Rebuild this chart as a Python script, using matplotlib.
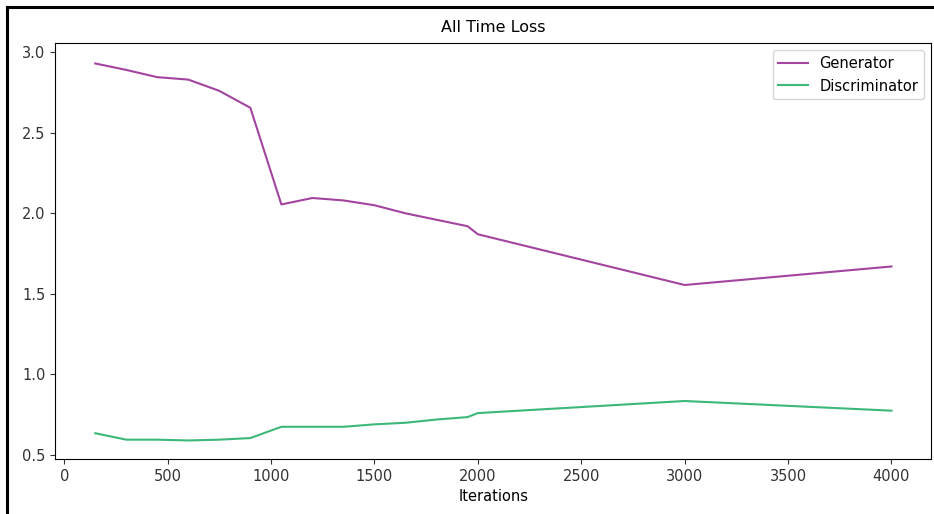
import matplotlib
matplotlib.use('Agg')
import matplotlib.pyplot as plt
from matplotlib.lines import Line2D

# iterations at which loss was logged
iterations = [150, 300, 450, 600, 750, 900, 1050, 1200, 1350, 1500,
              1650, 1800, 1950, 2000, 3000, 4000]

# generator loss
gen_loss = [2.93, 2.89, 2.845, 2.83, 2.76, 2.655, 2.055, 2.095, 2.08, 2.05,
            2.0, 1.96, 1.92, 1.87, 1.555, 1.67]

# discriminator loss
disc_loss = [0.635, 0.595, 0.595, 0.59, 0.595, 0.605, 0.675, 0.675, 0.675, 0.69,
             0.70, 0.72, 0.735, 0.76, 0.835, 0.775]

fig = plt.figure(figsize=(9.34, 5.14), dpi=100)
ax = fig.add_axes([0.059, 0.107, 0.938, 0.809])

ax.plot(iterations, gen_loss, color='#a3449f', linewidth=1.5, label='Generator')
ax.plot(iterations, disc_loss, color='#3cb878', linewidth=1.5, label='Discriminator')

ax.set_title('All Time Loss', fontsize=11.5, pad=8)
ax.set_xlabel('Iterations', fontsize=10.5, labelpad=4)
ax.set_xlim(-44, 4192)
ax.set_ylim(0.475, 3.056)
ax.set_xticks([0, 500, 1000, 1500, 2000, 2500, 3000, 3500, 4000])
ax.set_yticks([0.5, 1.0, 1.5, 2.0, 2.5, 3.0])
ax.tick_params(labelsize=10.5, colors='#333333')
ax.legend(loc='upper right', fontsize=10.5)

# black frame along top and left of the picture
fig.add_artist(Line2D([0.0075, 1.0], [0.986, 0.986], color='black', linewidth=2.2,
                      transform=fig.transFigure))
fig.add_artist(Line2D([0.0075, 0.0075], [0.0, 0.986], color='black', linewidth=2.2,
                      transform=fig.transFigure))

fig.savefig('out.png', dpi=100)
